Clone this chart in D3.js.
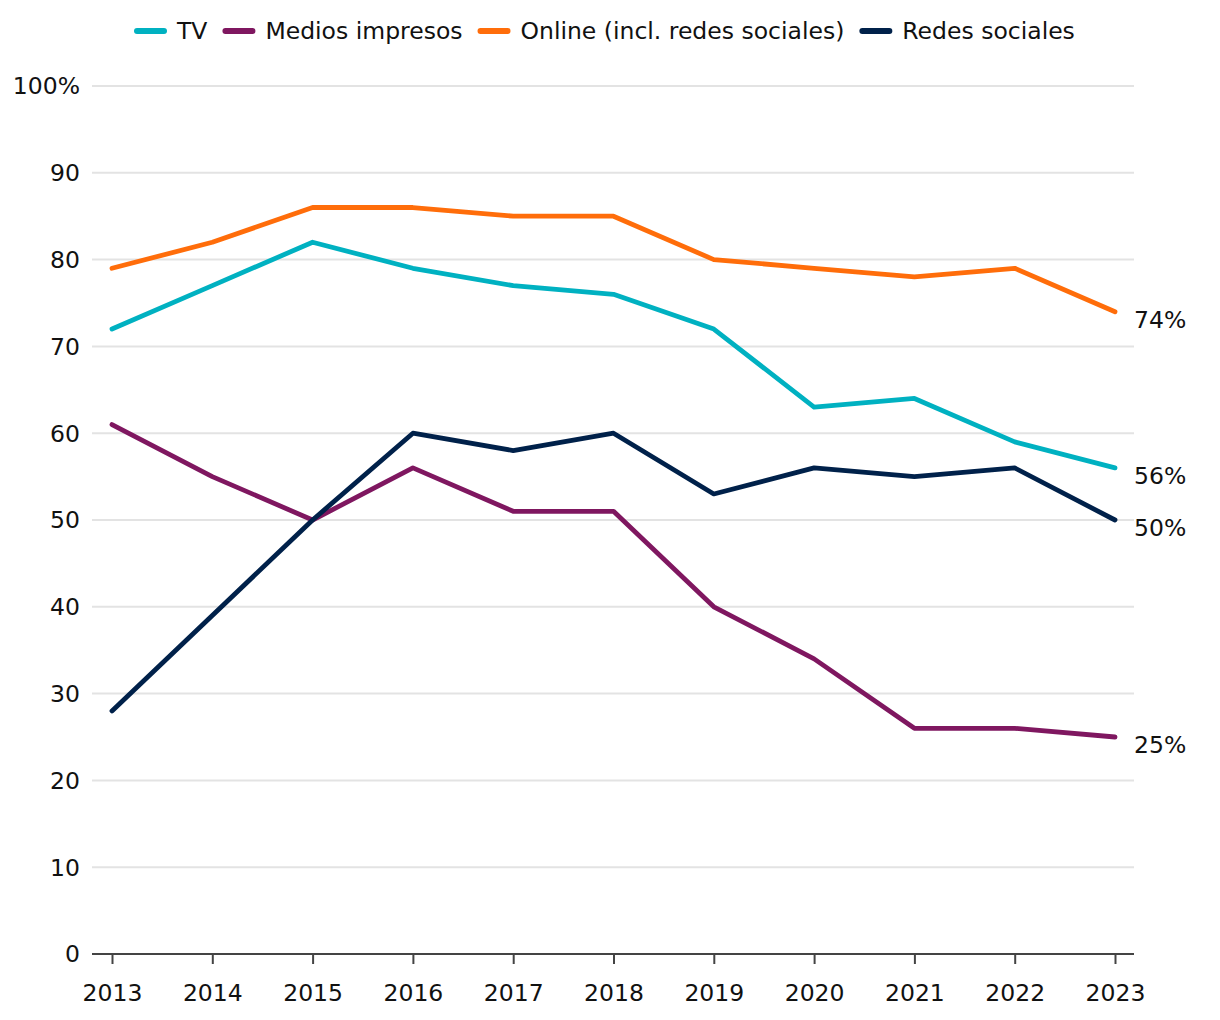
<!DOCTYPE html>
<html><head><meta charset="utf-8">
<script src="https://cdn.jsdelivr.net/npm/d3@7"></script>
<style>body{margin:0;background:#fff;} text{font-family:"DejaVu Sans","Noto Sans",sans-serif;}</style>
</head><body><svg id="c" width="1220" height="1020"></svg>
<script>
const years = [2013,2014,2015,2016,2017,2018,2019,2020,2021,2022,2023];
const tv = [72,77,82,79,77,76,72,63,64,59,56];
const impresos = [61,55,50,56,51,51,40,34,26,26,25];
const online = [79,82,86,86,85,85,80,79,78,79,74];
const redes = [28,39,50,60,58,60,53,56,55,56,50];
const seriesNames = ["TV","Medios impresos","Online (incl. redes sociales)","Redes sociales"];
const seriesColors = ["#00B1C1","#7F1760","#FF6D0A","#00214A"];
const yTicks = [0,10,20,30,40,50,60,70,80,90,100];

const FS = 23.5;
const FONT = '"DejaVu Sans","Noto Sans",sans-serif';
const series = [tv, impresos, online, redes];
const svg = d3.select("#c");
const x = d3.scaleLinear().domain([2013,2023]).range([112,1115]);
const y = d3.scaleLinear().domain([0,100]).range([954,86]);

// gridlines
svg.append("g").selectAll("line").data(yTicks.filter(d=>d>0)).join("line")
  .attr("x1",92).attr("x2",1134).attr("y1",d=>y(d)).attr("y2",d=>y(d))
  .attr("stroke","#e3e3e3").attr("stroke-width",2);

// y labels
svg.append("g").selectAll("text").data(yTicks).join("text")
  .attr("x",80).attr("y",d=>y(d)).attr("dy","0.36em").attr("text-anchor","end")
  .attr("font-size",FS).attr("fill","#111")
  .text(d=>d===100?"100%":d);

// x axis
const xAxis = d3.axisBottom(x).tickValues(years).tickFormat(d3.format("d")).tickSize(10).tickPadding(20).tickSizeOuter(0);
const gx = svg.append("g").attr("transform",`translate(0,${y(0)})`).call(xAxis);
gx.select(".domain").remove();
gx.selectAll(".tick line").attr("stroke","#444").attr("stroke-width",2);
gx.selectAll(".tick text").attr("font-size",FS).attr("fill","#111").style("font-family",FONT);
svg.append("line").attr("x1",92).attr("x2",1134).attr("y1",y(0)).attr("y2",y(0)).attr("stroke","#444").attr("stroke-width",2);

// lines
const line = d3.line().x((d,i)=>x(years[i])).y(d=>y(d));
series.forEach((s,k)=>{
  svg.append("path").datum(s).attr("d",line).attr("fill","none")
    .attr("stroke",seriesColors[k]).attr("stroke-width",4.8)
    .attr("stroke-linejoin","round").attr("stroke-linecap","round");
});

// end labels
const endLabelSeries = [2,0,3,1];
endLabelSeries.forEach(k=>{
  const v = series[k][series[k].length-1];
  svg.append("text").attr("x",1134).attr("y",y(v)+8).attr("dy","0.36em")
    .attr("font-size",FS).attr("fill","#111").text(v+"%");
});

// legend
const legend = svg.append("g");
let lx = 137;
const legendY = 31;
seriesNames.forEach((n,k)=>{
  const g = legend.append("g");
  g.append("line").attr("x1",lx).attr("x2",lx+27).attr("y1",legendY).attr("y2",legendY)
    .attr("stroke",seriesColors[k]).attr("stroke-width",6).attr("stroke-linecap","round");
  const t = g.append("text").attr("x",lx+40).attr("y",legendY).attr("dy","0.36em")
    .attr("font-size",FS).attr("fill","#111").text(n);
  const w = t.node().getComputedTextLength();
  lx += 40 + w + 18;
});
</script></body></html>
